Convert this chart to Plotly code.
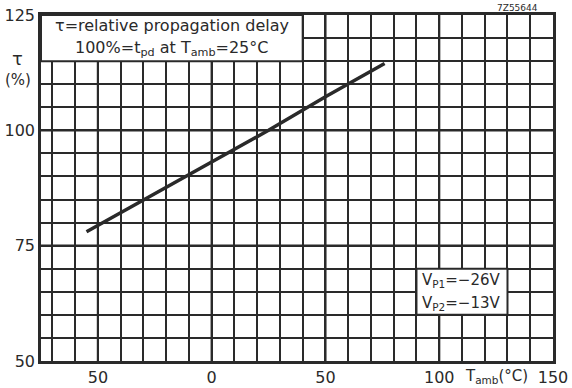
import plotly.graph_objects as go

# data
temp_c = [-55, -20, 0, 25, 50, 76]
tau_pct = [78.0, 87.6, 93.0, 100.0, 107.3, 114.5]

x_tickvals = list(range(-70, 151, 10))
x_labels = {-50: "50", 0: "0", 50: "50", 100: "100", 150: "150"}
x_ticktext = [x_labels.get(v, "") for v in x_tickvals]
y_tickvals = list(range(50, 126, 5))
y_labels = {50: "50", 75: "75", 100: "100", 125: "125"}
y_ticktext = [y_labels.get(v, "") for v in y_tickvals]

ink = "#2a2a2a"
font_family = "DejaVu Sans"

fig = go.Figure()
fig.add_trace(go.Scatter(x=temp_c, y=tau_pct, mode="lines",
                         line=dict(color=ink, width=3.5), showlegend=False,
                         hoverinfo="skip"))

shapes = []
# heavier grid lines
for xv in [-50, 0, 50, 100]:
    shapes.append(dict(type="line", xref="x", yref="y", x0=xv, x1=xv, y0=50, y1=125,
                       line=dict(color=ink, width=2.2), layer="below"))
for yv in [75, 100]:
    shapes.append(dict(type="line", xref="x", yref="y", x0=-75, x1=150, y0=yv, y1=yv,
                       line=dict(color=ink, width=2.2), layer="below"))
# text boxes
shapes.append(dict(type="rect", xref="x", yref="y", x0=-75, x1=40, y0=115, y1=125,
                   fillcolor="white", line=dict(color=ink, width=2), layer="above"))
shapes.append(dict(type="rect", xref="x", yref="y", x0=90, x1=130, y0=60, y1=70,
                   fillcolor="white", line=dict(color=ink, width=2), layer="above"))

annotations = [
    dict(x=-17.5, y=122.7, xref="x", yref="y", text="τ=relative propagation delay",
         showarrow=False, font=dict(size=16, color=ink, family=font_family)),
    dict(x=-17.5, y=117.7, xref="x", yref="y",
         text="100%=t<sub>pd</sub> at T<sub>amb</sub>=25°C",
         showarrow=False, font=dict(size=16, color=ink, family=font_family)),
    dict(x=110, y=67.4, xref="x", yref="y", text="V<sub>P1</sub>=−26V",
         showarrow=False, font=dict(size=15, color=ink, family=font_family)),
    dict(x=110, y=62.5, xref="x", yref="y", text="V<sub>P2</sub>=−13V",
         showarrow=False, font=dict(size=15, color=ink, family=font_family)),
    dict(x=125, y=-0.046, xref="x", yref="paper", yanchor="middle",
         text="T<sub>amb</sub>(°C)", showarrow=False,
         font=dict(size=15, color=ink, family=font_family)),
    dict(x=-0.046, y=0.875, xref="paper", yref="paper", xanchor="center",
         yanchor="middle", text="τ", showarrow=False,
         font=dict(size=18, color=ink, family=font_family)),
    dict(x=-0.045, y=0.812, xref="paper", yref="paper", xanchor="center",
         yanchor="middle", text="(%)", showarrow=False,
         font=dict(size=15, color=ink, family=font_family)),
    dict(x=0.975, y=1.0, xref="paper", yref="paper", xanchor="right", yanchor="bottom",
         text="7Z55644", showarrow=False,
         font=dict(size=9, color=ink, family=font_family)),
]

fig.update_layout(
    width=572, height=388,
    margin=dict(l=41, r=19, t=15, b=27, autoexpand=False),
    paper_bgcolor="white", plot_bgcolor="white",
    shapes=shapes, annotations=annotations,
    font=dict(family=font_family, size=15, color=ink),
    xaxis=dict(range=[-75, 150], tickmode="array", tickvals=x_tickvals,
               ticktext=x_ticktext, showgrid=True, gridcolor=ink, gridwidth=1.5,
               zeroline=False, showline=True, linecolor=ink, linewidth=2.5,
               mirror=True, ticks="", automargin=False,
               tickfont=dict(size=16, color=ink)),
    yaxis=dict(range=[50, 125], tickmode="array", tickvals=y_tickvals,
               ticktext=y_ticktext, showgrid=True, gridcolor=ink, gridwidth=1.5,
               zeroline=False, showline=True, linecolor=ink, linewidth=2.5,
               mirror=True, ticks="", automargin=False,
               tickfont=dict(size=16, color=ink)),
)

fig.write_html("out.html", config={"displayModeBar": False},
               post_script="document.body.style.margin='0px';")
